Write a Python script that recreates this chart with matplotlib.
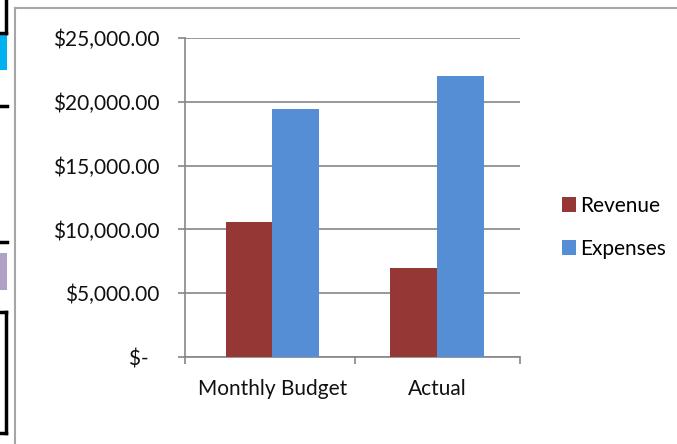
import matplotlib
matplotlib.use("Agg")
import matplotlib.pyplot as plt
from matplotlib.patches import Rectangle
from matplotlib.lines import Line2D
from matplotlib.ticker import FuncFormatter
import numpy as np

# ============================== DATA ==============================
categories = ["Monthly Budget", "Actual"]
revenue = [10600, 7000]
expenses = [19450, 22000]
series_names = ["Revenue", "Expenses"]
colors = ["#953735", "#558ED5"]

plt.rcParams["font.family"] = ["Lato", "DejaVu Sans"]

W, H = 677, 444
fig = plt.figure(figsize=(W / 100, H / 100), dpi=100)

def fx(px):
    return px / W

def fy(py):
    return 1 - py / H

# chart area frame (only the left and top edges are visible)
fig.add_artist(Line2D([fx(15), fx(15)], [fy(8), fy(444)], color="#A6A6A6", lw=1.5))
fig.add_artist(Line2D([fx(15), fx(677)], [fy(8), fy(8)], color="#A6A6A6", lw=1.5))

# leftover bits of the spreadsheet at the left edge
for (x0, y0, w, h, c) in [(0, 35, 7, 35, "#00B0F0"), (0, 253, 7, 37, "#B2A1C7")]:
    fig.add_artist(Rectangle((fx(x0), fy(y0 + h)), fx(w), h / H, color=c, lw=0))
for seg in [((6, 0), (6, 33)), ((0, 33), (6, 33)), ((0, 106), (7, 106)),
            ((0, 242), (7, 242)), ((0, 312), (6, 312)), ((6, 312), (6, 433)),
            ((0, 433), (6, 433))]:
    (xa, ya), (xb, yb) = seg
    fig.add_artist(Line2D([fx(xa), fx(xb)], [fy(ya), fy(yb)], color="black", lw=2.5))

# ============================== PLOT ==============================
ax = fig.add_axes([fx(185), fy(357), fx(520 - 185), (357 - 38) / H])

x = np.arange(len(categories))
width = 0.285
ax.bar(x - width / 2, revenue, width, color=colors[0], label=series_names[0], zorder=3)
ax.bar(x + width / 2, expenses, width, color=colors[1], label=series_names[1], zorder=3)

x_lo, x_hi = -0.532, len(categories) - 0.495
ax.set_xlim(x_lo, x_hi)
ax.set_ylim(0, 25000)
ax.set_yticks(np.arange(0, 25001, 5000))
ax.yaxis.set_major_formatter(FuncFormatter(lambda v, p: "$-  " if v == 0 else f"${v:,.2f}"))
ax.grid(axis="y", color="#868686", lw=1.2, zorder=0)

ax.set_xticks(x)
ax.set_xticklabels(categories)
ax.set_xticks([x_lo, 0.5, x_hi], minor=True)
ax.tick_params(axis="x", which="major", length=0, pad=16, labelsize=15, labelcolor="#111111")
ax.tick_params(axis="x", which="minor", length=5, color="#868686", width=1.2)
ax.tick_params(axis="y", length=5, color="#868686", width=1.2, pad=13.5, labelsize=15,
               labelcolor="#111111")

for s in ["top", "right"]:
    ax.spines[s].set_visible(False)
for s in ["left", "bottom"]:
    ax.spines[s].set_color("#868686")
    ax.spines[s].set_linewidth(1.2)

leg = fig.legend(loc="upper left", bbox_to_anchor=(fx(543), fy(177)), frameon=False,
                 fontsize=15, handlelength=0.7, handleheight=0.7, handletextpad=0.2,
                 labelspacing=1.1)

fig.savefig("out.png", dpi=100)
